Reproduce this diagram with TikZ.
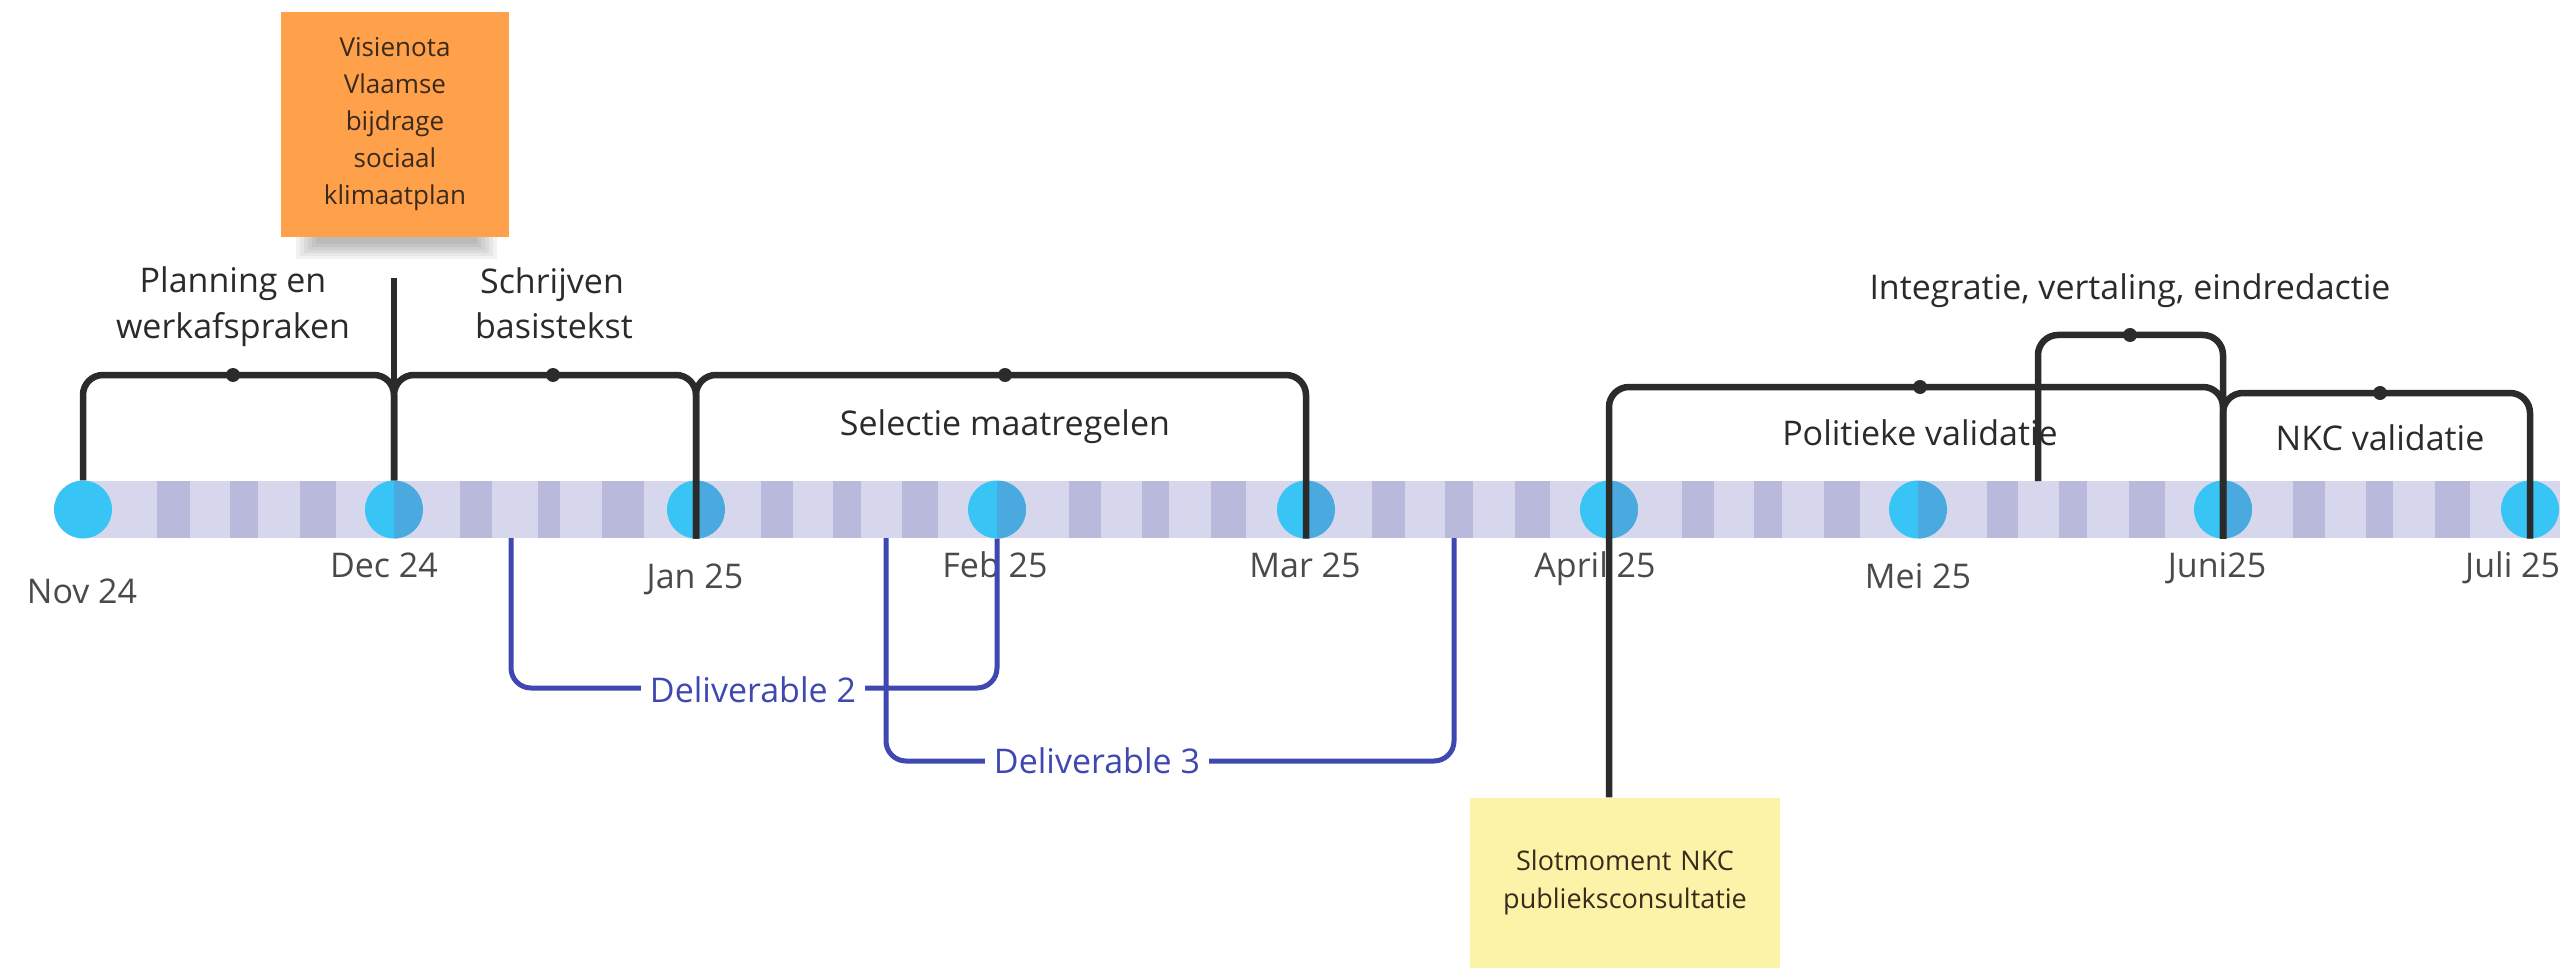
\documentclass[tikz,border=0pt]{standalone}
\usepackage{fontspec}
\setmainfont{Open Sans}
\usetikzlibrary{calc}
\definecolor{barlight}{HTML}{D6D6EC}
\definecolor{barstripe}{HTML}{B9B9DC}
\definecolor{cyanA}{HTML}{38C4F4}
\definecolor{cyanB}{HTML}{4AAAE0}
\definecolor{ink}{HTML}{2B2B2B}
\definecolor{labelgray}{HTML}{4A4A4A}
\definecolor{delblue}{HTML}{3F47B0}
\definecolor{noteorange}{HTML}{FFA04B}
\definecolor{noteyellow}{HTML}{FBF3A8}
\definecolor{notetext}{HTML}{3A2A1C}
\begin{document}
\begin{tikzpicture}[x=1pt,y=-1pt,
  mcirc/.style={circle,fill=cyanA,minimum size=58pt,inner sep=0pt},
  mcirchalf/.style={mcirc,path picture={\fill[cyanB] (path picture bounding box.north) rectangle (path picture bounding box.south east);}},
  monthlbl/.style={anchor=base,text=labelgray,font=\fontsize{34}{40}\selectfont,inner sep=0pt},
  phaselbl/.style={anchor=base,text=ink,font=\fontsize{34}{40}\selectfont,inner sep=0pt},
  brace/.style={draw=ink,line width=6.5pt,rounded corners=20pt},
  deliv/.style={draw=delblue,line width=5pt,rounded corners=20pt},
  delivlbl/.style={anchor=base,text=delblue,fill=white,font=\fontsize{34}{40}\selectfont,inner xsep=9pt,inner ysep=2pt},
  middot/.style={circle,fill=ink,minimum size=14pt,inner sep=0pt},
  sticky/.style={align=center,inner sep=0pt,text=notetext},
]
\useasboundingbox (0,0) rectangle (2560,968);
\clip (0,0) rectangle (2560,968);

% timeline bar
\fill[barlight] (83,481) rectangle (2560,538);
\foreach \a/\b in {157/190,230/258,300/336,460/492,538/560,602/644,761/793,833/861,902/938,1069/1101,1142/1169,1211/1246,1372/1405,1445/1473,1515/1550,1682/1714,1754/1782,1824/1860,1987/2018,2059/2087,2129/2165,2293/2325,2366/2393,2435/2470}
  \fill[barstripe] (\a,481) rectangle (\b,538);

% month markers
\node[mcirc] (nov) at (83,509.5) {};
\node[mcirchalf] (dec) at (394,509.5) {};
\node[mcirchalf] (jan) at (696,509.5) {};
\node[mcirchalf] (feb) at (997,509.5) {};
\node[mcirchalf] (mar) at (1306,509.5) {};
\node[mcirchalf] (apr) at (1609,509.5) {};
\node[mcirchalf] (mei) at (1918,509.5) {};
\node[mcirchalf] (jun) at (2223,509.5) {};
\node[mcirc] (jul) at (2530,509.5) {};

% month labels
\node[monthlbl] (lnov) at (82,603) {Nov 24};
\node[monthlbl] (ldec) at (384,577) {Dec 24};
\node[monthlbl] (ljan) at (695,588) {Jan 25};
\node[monthlbl] (lfeb) at (995,577) {Feb 25};
\node[monthlbl] (lmar) at (1305,577) {Mar 25};
\node[monthlbl] (lapr) at (1595,577) {April 25};
\node[monthlbl] (lmei) at (1918,588) {Mei 25};
\node[monthlbl] (ljun) at (2217,577) {Juni25};
\node[monthlbl,anchor=base west] (ljul) at (2465,577) {Juli 25};

% sticky notes
\foreach \i in {0,...,5}
  \fill[black,opacity=0.05] (296+\i*4,230) rectangle (497-\i*4,259-\i*3);
\node[sticky,fill=noteorange,minimum width=228pt,minimum height=225pt,text width=210pt,
      font=\fontsize{26}{37}\selectfont] (vision) at (395,124.5)
      {Visienota\\Vlaamse\\bijdrage\\sociaal\\klimaatplan};
\fill[black,opacity=0.06] (1472,962) rectangle (1780,968);
\node[sticky,fill=noteyellow,minimum width=310pt,minimum height=170pt,text width=300pt,
      font=\fontsize{27}{38}\selectfont] (slot) at (1625,882.5)
      {Slotmoment NKC\\publieksconsultatie};

% phase labels
\node[phaselbl] (plan1) at (233,293) {Planning en};
\node[phaselbl] (plan2) at (233,338) {werkafspraken};
\node[phaselbl] (schr1) at (552,294) {Schrijven};
\node[phaselbl] (schr2) at (554,339) {basistekst};
\node[phaselbl] (sel) at (1005,435) {Selectie maatregelen};
\node[phaselbl] (pol) at (1920,445) {Politieke validatie};
\node[phaselbl] (nkc) at (2380,450) {NKC validatie};
\node[phaselbl] (integ) at (2130,300) {Integratie, vertaling, eindredactie};

% brace mid points and free ends
\coordinate (b1) at (233,375);
\coordinate (b2) at (553,375);
\coordinate (b3) at (1005,375);
\coordinate (b4) at (1920,387);
\coordinate (b5) at (2130,335);
\coordinate (b6) at (2380,393);
\coordinate (notefoot) at (394,278);
\coordinate (ibase) at (2038,481);

% phase braces
\draw[brace] (notefoot) -- (dec.north);
\draw[brace] (nov.north) |- (b1) -| (dec.north);
\draw[brace] (dec.north) |- (b2) -| (jan.south);
\draw[brace] (jan.south) |- (b3) -| (mar.south);
\draw[brace] (apr |- slot.north) |- (b4) -| (jun.south);
\draw[brace] (ibase) |- (b5) -| (jun.south);
\draw[brace] (jun.south) |- (b6) -| (jul.south);
\foreach \b in {b1,b2,b3,b4,b5,b6}
  \node[middot] (dot\b) at (\b) {};

% deliverables
\coordinate (d2start) at (511,538);
\coordinate (d2mid) at (753,688);
\coordinate (d3start) at (886,538);
\coordinate (d3mid) at (1097,761);
\coordinate (d3end) at (1454,538);
\draw[deliv] (d2start) |- (d2mid) -| (feb.south);
\node[delivlbl] (d2lbl) at (753,702) {Deliverable 2};
\draw[deliv] (d3start) |- (d3mid) -| (d3end);
\node[delivlbl] (d3lbl) at (1097,773) {Deliverable 3};
\end{tikzpicture}
\end{document}
